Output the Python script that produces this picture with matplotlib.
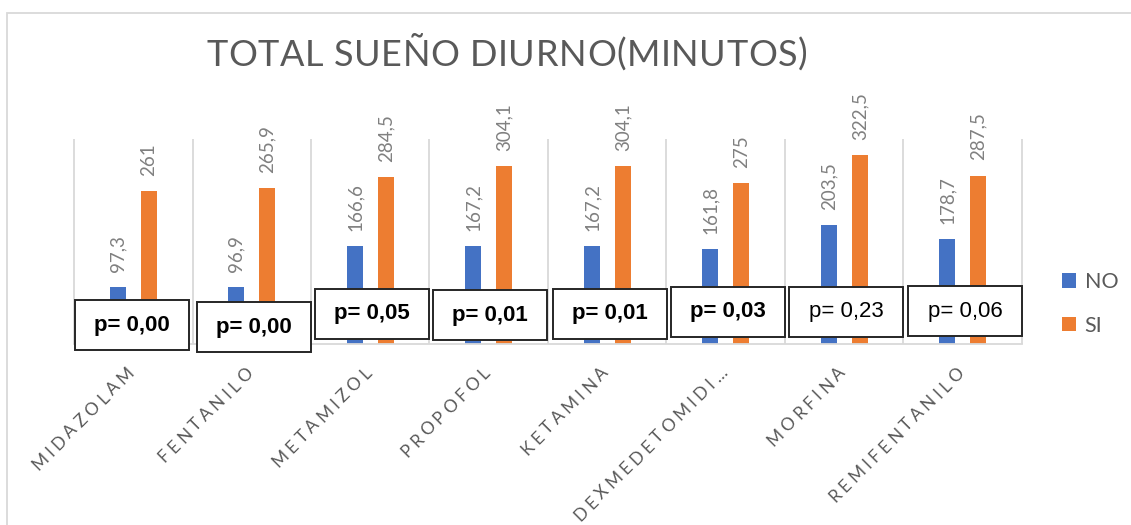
import numpy as np
import matplotlib
matplotlib.use("Agg")
import matplotlib.pyplot as plt
from matplotlib.patches import Rectangle, Patch
from matplotlib.transforms import offset_copy
from matplotlib.font_manager import FontProperties, findfont
from matplotlib.ft2font import FT2Font

# ---- data ----
categories = ["MIDAZOLAM", "FENTANILO", "METAMIZOL", "PROPOFOL",
              "KETAMINA", "DEXMEDETOMIDI…", "MORFINA", "REMIFENTANILO"]
no_values = [97.3, 96.9, 166.6, 167.2, 167.2, 161.8, 203.5, 178.7]
si_values = [261, 265.9, 284.5, 304.1, 304.1, 275, 322.5, 287.5]
p_labels = ["p= 0,00", "p= 0,00", "p= 0,05", "p= 0,01",
            "p= 0,01", "p= 0,03", "p= 0,23", "p= 0,06"]
p_bold = [True, True, True, True, True, True, False, False]
series_names = ["NO", "SI"]
title = "TOTAL SUEÑO DIURNO(MINUTOS)"

# ---- layout ----
W, H, DPI = 1131, 525, 100
PX = 72.0 / DPI  # points per pixel
BLUE, ORANGE = "#4472C4", "#ED7D31"
GRID = "#D9D9D9"
TEXT_GRAY = "#595959"
LABEL_GRAY = "#808080"
# text boxes for the p values: (left, top) in pixels, fixed size
pbox_pos = [(75, 300), (197, 302), (315, 289), (433, 290),
            (553, 289), (671, 287), (789, 287), (908, 286)]
PBOX_W, PBOX_H = 114, 50

fig = plt.figure(figsize=(W / DPI, H / DPI), dpi=DPI)
fig.patch.set_facecolor("white")
ax = fig.add_axes([74 / W, 1 - 344 / H, (1022 - 74) / W, (344 - 139) / H])

n = len(categories)
x = np.arange(n)
bw, off = 0.135, 0.13
ax.bar(x - off, no_values, bw, color=BLUE, zorder=2, label=series_names[0])
ax.bar(x + off, si_values, bw, color=ORANGE, zorder=2, label=series_names[1])

ax.set_xlim(-0.5, n - 0.5)
ax.set_ylim(0, 350)
ax.set_xticks([])
ax.set_yticks([])
for s in ("left", "right", "top"):
    ax.spines[s].set_visible(False)
ax.spines["bottom"].set_color(GRID)
ax.spines["bottom"].set_linewidth(1.3)
ax.vlines(np.arange(-0.5, n), 0, 350, color=GRID, lw=1.3, zorder=1, clip_on=False)

# value labels
val_fp = FontProperties(family="Lato", size=13.5)
def fmt(v):
    return f"{v:g}".replace(".", ",")
for xi, v in zip(x - off, no_values):
    ax.annotate(fmt(v), (xi, v), xytext=(0, 11), textcoords="offset points",
                rotation=90, ha="center", va="bottom", color=LABEL_GRAY,
                fontproperties=val_fp)
for xi, v in zip(x + off, si_values):
    ax.annotate(fmt(v), (xi, v), xytext=(0, 11), textcoords="offset points",
                rotation=90, ha="center", va="bottom", color=LABEL_GRAY,
                fontproperties=val_fp)


def char_advances(text, fp):
    font = FT2Font(findfont(fp))
    font.set_size(fp.get_size_in_points(), 72)
    return [font.load_char(ord(c)).linearHoriAdvance / 65536 for c in text]


def spaced_text(base, x0, y0, text, fp, spacing, angle=0, align="left",
                dx0=0.0, dy0=0.0, **kw):
    adv = char_advances(text, fp)
    total = sum(adv) + spacing * (len(text) - 1)
    pos = {"left": 0.0, "center": -total / 2, "right": -total}[align]
    c, s = np.cos(np.radians(angle)), np.sin(np.radians(angle))
    for ch, a in zip(text, adv):
        tr = offset_copy(base, fig=fig, x=dx0 + pos * c, y=dy0 + pos * s,
                         units="points")
        fig.text(x0, y0, ch, transform=tr, fontproperties=fp, rotation=angle,
                 rotation_mode="anchor", ha="left", va="baseline", **kw)
        pos += a + spacing


# category labels, letter-spaced and rotated
tick_fp = FontProperties(family="Lato", size=12.5)
for i, name in enumerate(categories):
    spaced_text(ax.transData, i, 0, name, tick_fp, 2.7, angle=45,
                align="right", dx0=2 * PX, dy0=-30 * PX, color=TEXT_GRAY)

# title
title_fp = FontProperties(family="Lato", size=26)
spaced_text(fig.transFigure, 507 / W, 1 - 66 / H, title, title_fp, 0.4,
            align="center", color=TEXT_GRAY)

# p-value boxes
for (bx, by), txt, bold in zip(pbox_pos, p_labels, p_bold):
    fig.add_artist(Rectangle((bx / W, 1 - (by + PBOX_H) / H), PBOX_W / W, PBOX_H / H,
                             transform=fig.transFigure, facecolor="white",
                             edgecolor="#262626", lw=1.4, zorder=5))
    fig.text((bx + PBOX_W / 2) / W, 1 - (by + PBOX_H / 2) / H, txt,
             family="Liberation Sans", fontsize=16,
             fontweight="bold" if bold else "normal", color="black",
             ha="center", va="center", zorder=6)

# legend
fig.legend(handles=[Patch(facecolor=BLUE), Patch(facecolor=ORANGE)],
           labels=series_names, loc="upper left",
           bbox_to_anchor=(1062 / W, 1 - 272 / H), frameon=False,
           prop=FontProperties(family="Lato", size=15.5), labelcolor=TEXT_GRAY,
           handlelength=0.65, handleheight=0.65, handletextpad=0.4,
           labelspacing=1.1, borderpad=0, borderaxespad=0)

# chart border
fig.add_artist(Rectangle((7 / W, -0.1), 1.2, 1 - 13 / H + 0.1,
                         transform=fig.transFigure, fill=False,
                         edgecolor=GRID, lw=1.3, zorder=0))

fig.savefig("out.png", dpi=DPI)
